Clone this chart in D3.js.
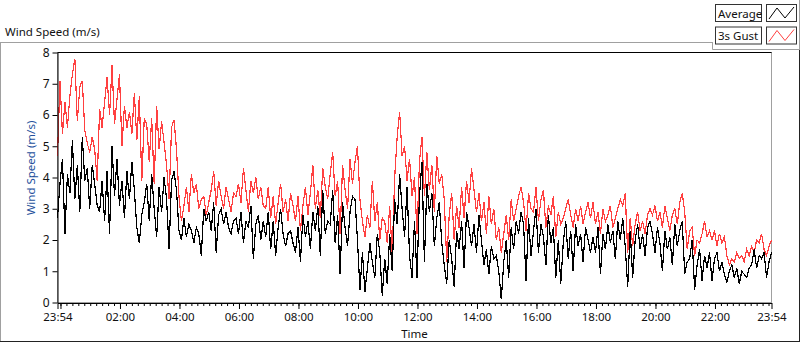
<!DOCTYPE html>
<html>
<head>
<meta charset="utf-8">
<script src="https://cdn.jsdelivr.net/npm/d3@7"></script>
<style>
  html, body { margin: 0; padding: 0; background: #fff; }
  #chart { width: 800px; height: 342px; }
  text { font-family: "Noto Sans", "Open Sans", sans-serif; fill: #111; }
  .axis .domain { stroke: #000; }
  .axis line { stroke: #000; }
</style>
</head>
<body>
<div id="chart"></div>
<script>
// one sample every 5 minutes, 23:54 -> 23:54 next day
const startTime = new Date(2000, 0, 1, 23, 54);
const stepMinutes = 5;

const averageSpeed = [
  2.7, 3.8, 4.6, 2.2, 4.1, 3.5, 5.2, 3.3, 4.4, 2.9, 5.3, 3.9,
  4.3, 3.0, 4.4, 3.8, 3.1, 2.9, 3.9, 2.6, 4.2, 2.2, 5.0, 3.4,
  4.6, 3.1, 3.9, 2.7, 4.2, 3.3, 4.5, 3.6, 2.4, 1.9, 2.8, 3.2,
  3.8, 2.6, 4.1, 3.0, 2.1, 3.7, 2.9, 4.0, 3.3, 1.7, 3.9, 4.2,
  3.6, 2.3, 2.0, 2.7, 2.1, 2.5, 2.3, 1.9, 2.4, 2.2, 1.5, 3.0,
  2.6, 2.9, 2.3, 3.2, 1.6, 2.8, 3.0, 2.5, 2.9, 2.4, 2.2, 2.6,
  2.7, 2.2, 2.9, 1.9, 2.6, 2.4, 3.1, 1.4, 2.5, 2.8, 2.0, 2.6,
  2.1, 2.9, 1.7, 2.6, 1.5, 2.4, 3.0, 2.2, 1.8, 2.2, 2.3, 1.9,
  1.6, 2.4, 1.3, 2.8, 2.1, 2.6, 1.7, 2.9, 2.3, 3.1, 1.5, 3.6,
  2.2, 2.6, 2.5, 3.6, 1.9, 2.8, 0.9, 3.2, 2.4, 1.8, 2.9, 3.4,
  3.3, 2.0, 0.4, 1.6, 0.35, 1.1, 1.9, 1.3, 0.8, 2.2, 1.6, 0.2,
  1.4, 0.6, 2.2, 1.0, 3.3, 2.5, 4.1, 3.0, 2.1, 3.7, 1.5, 0.8,
  2.6, 0.8, 3.4, 4.5, 1.3, 3.8, 2.9, 3.5, 1.8, 2.7, 3.2, 1.9,
  1.2, 0.6, 2.0, 1.4, 0.5, 2.3, 1.7, 2.6, 1.1, 2.9, 2.4, 1.8,
  2.5, 1.6, 2.8, 2.0, 1.2, 1.7, 0.9, 1.8, 1.4, 1.5, 1.0, 0.1,
  1.3, 2.0, 0.8, 2.4, 1.7, 2.6, 2.2, 2.9, 2.5, 0.7, 2.7, 1.5,
  2.3, 3.0, 1.6, 2.5, 2.1, 1.2, 2.8, 1.9, 2.4, 0.8, 2.0, 0.6,
  1.9, 2.6, 1.4, 2.3, 1.0, 2.5, 1.8, 2.2, 1.3, 2.4, 2.0, 1.6,
  2.1, 1.6, 2.4, 0.9, 2.2, 1.7, 2.5, 1.9, 2.3, 1.4, 2.6, 2.0,
  2.7, 1.8, 0.5, 2.3, 0.8, 2.0, 2.5, 1.7, 2.2, 1.5, 2.4, 2.6,
  2.2, 1.6, 2.4, 1.9, 1.0, 2.3, 1.7, 2.1, 1.2, 2.5, 1.8, 2.3,
  2.6, 0.9, 1.3, 1.4, 2.0, 0.4, 1.2, 1.7, 0.7, 1.5, 1.1, 1.6,
  0.7, 1.4, 1.6, 1.0, 1.3, 0.9, 0.65, 1.0, 1.2, 0.8, 1.1, 0.6,
  1.0, 0.9, 0.8, 1.1, 1.2, 1.7, 1.1, 1.5, 1.4, 1.6, 0.8, 1.3,
  1.6
];

const gustSpeed = [
  4.7, 7.1, 5.4, 6.4, 5.6, 6.6, 7.3, 7.8, 5.8, 6.9, 7.1, 5.5,
  5.1, 4.8, 5.3, 4.9, 3.9, 6.2, 5.6, 6.4, 7.2, 6.0, 7.6, 5.7,
  6.5, 7.3, 5.0, 6.3, 5.6, 6.1, 5.4, 6.7, 5.2, 6.6, 3.9, 5.9,
  5.7, 4.5, 5.9, 3.8, 6.3, 4.9, 5.8, 5.1, 4.4, 3.3, 5.6, 5.85,
  4.9, 3.4, 2.6, 3.1, 3.7, 2.9, 4.1, 3.5, 3.8, 3.0, 3.3, 3.4,
  2.8, 3.2, 3.6, 4.2, 3.1, 3.9, 3.4, 3.0, 3.7, 3.3, 2.9, 3.5,
  3.4, 3.8, 3.2, 4.3, 3.6, 2.9, 3.9, 3.5, 4.0, 3.3, 3.7, 3.1,
  3.0, 3.7, 2.7, 3.4, 2.5, 3.2, 3.8, 2.9, 3.3, 2.6, 3.5, 3.1,
  2.6, 3.4, 2.3, 3.1, 3.7, 2.8, 3.5, 4.4, 3.0, 3.6, 2.7, 4.3,
  3.7, 3.3, 4.1, 4.8, 3.4, 3.9, 2.2, 4.4, 3.6, 3.0, 4.6, 3.8,
  4.5, 5.0, 3.3, 2.6, 2.1, 2.8, 2.4, 3.9, 2.6, 3.2, 2.0, 2.7,
  2.6, 1.9, 3.1, 1.5, 4.0, 5.3, 6.1, 4.7, 5.0, 3.9, 4.6, 3.4,
  4.0, 2.2, 4.5, 5.3, 3.4, 4.8, 3.6, 4.4, 2.9, 4.7, 3.8, 4.1,
  3.3, 1.3, 2.8, 3.5, 2.0, 3.1, 2.4, 3.7, 2.7, 3.9, 3.2, 4.3,
  3.6, 2.9, 3.5, 2.6, 3.2, 2.2, 3.4, 2.5, 3.0, 2.0, 2.4, 1.6,
  2.2, 2.8, 2.0, 3.3, 2.6, 3.0, 3.4, 3.7, 3.2, 2.3, 3.5, 3.0,
  2.9, 3.7, 2.6, 3.3, 3.6, 2.4, 3.1, 2.8, 3.4, 2.1, 2.9, 2.5,
  2.7, 3.0, 3.3, 2.8, 2.4, 3.0, 2.6, 3.1, 2.5, 2.9, 3.2, 2.7,
  3.2, 2.5, 2.9, 2.2, 3.0, 2.6, 2.8, 3.1, 2.4, 2.7, 3.0, 3.3,
  3.1, 3.5, 1.6, 2.7, 1.8, 2.5, 2.9, 2.3, 2.6, 2.2, 2.8, 3.0,
  2.8, 3.1, 2.6, 2.9, 2.4, 3.1, 2.7, 2.3, 2.8, 3.0, 2.5, 3.2,
  3.5, 2.9, 1.7, 2.3, 2.4, 1.5, 2.0, 1.9, 2.2, 2.6, 2.1, 2.3,
  2.0, 2.3, 1.8, 2.2, 1.9, 2.1, 1.5, 1.2, 1.4, 1.3, 1.6, 1.4,
  1.5, 1.3, 1.7, 1.5, 1.8, 1.6, 2.0, 1.9, 2.2, 1.7, 1.5, 1.8,
  2.0
];

const yTicks = [0, 1, 2, 3, 4, 5, 6, 7, 8];
const xTickLabels = ["23:54", "02:00", "04:00", "06:00", "08:00", "10:00",
  "12:00", "14:00", "16:00", "18:00", "20:00", "22:00", "23:54"];
const seriesNames = ["Average", "3s Gust"];
const seriesColors = ["#000000", "#ff4040"];

const svg = d3.select("#chart").append("svg")
  .attr("width", 800)
  .attr("height", 342);

const plot = { left: 57.5, right: 771.5, top: 52.5, bottom: 302.5 };
const fontSize = "11.5px";

const endTime = d3.timeMinute.offset(startTime, stepMinutes * (averageSpeed.length - 1));

const x = d3.scaleTime()
  .domain([startTime, endTime])
  .range([plot.left, plot.right]);

const y = d3.scaleLinear()
  .domain([0, 8])
  .range([plot.bottom, plot.top]);

// outer panel frame
svg.append("line").attr("x1", 0).attr("x2", 712).attr("y1", 42.5).attr("y2", 42.5).attr("stroke", "#a0a0a0");
svg.append("line").attr("x1", 0.5).attr("x2", 0.5).attr("y1", 42).attr("y2", 342).attr("stroke", "#a0a0a0");
svg.append("line").attr("x1", 0).attr("x2", 800).attr("y1", 341.5).attr("y2", 341.5).attr("stroke", "#222");
svg.append("line").attr("x1", 799.5).attr("x2", 799.5).attr("y1", 49).attr("y2", 342).attr("stroke", "#222");

svg.append("text")
  .attr("x", 5)
  .attr("y", 36)
  .style("font-size", fontSize)
  .text("Wind Speed (m/s)");

// plot area
svg.append("rect")
  .attr("x", plot.left)
  .attr("y", plot.top)
  .attr("width", plot.right - plot.left)
  .attr("height", plot.bottom - plot.top)
  .attr("fill", "#fff")
  .attr("stroke", "#a0a0a0");

svg.append("line")
  .attr("x1", plot.left).attr("x2", plot.right)
  .attr("y1", plot.top).attr("y2", plot.top)
  .attr("stroke", "#000");

// data lines (gust first, average drawn on top)
const line = d3.line()
  .x(function (d, i) { return x(d3.timeMinute.offset(startTime, i * stepMinutes)); })
  .y(function (d) { return y(d); });

svg.append("path")
  .datum(gustSpeed)
  .attr("fill", "none")
  .attr("stroke", seriesColors[1])
  .attr("stroke-width", 1.2)
  .attr("shape-rendering", "crispEdges")
  .attr("d", line);

svg.append("path")
  .datum(averageSpeed)
  .attr("fill", "none")
  .attr("stroke", seriesColors[0])
  .attr("stroke-width", 1.2)
  .attr("shape-rendering", "crispEdges")
  .attr("d", line);

// y axis
const yAxis = d3.axisLeft(y)
  .tickValues(yTicks)
  .tickSize(5)
  .tickSizeOuter(0)
  .tickPadding(3);

svg.append("g")
  .attr("class", "axis y")
  .attr("transform", `translate(${plot.left},0)`)
  .call(yAxis)
  .call(function (g) { g.selectAll("text").style("font-size", "12px").attr("fill", "#111"); })
  .call(function (g) { g.select(".domain").attr("stroke", "#000"); });

svg.append("text")
  .attr("transform", "translate(35,168) rotate(-90)")
  .attr("text-anchor", "middle")
  .style("font-size", fontSize)
  .style("fill", "#24509c")
  .text("Wind Speed (m/s)");

// x axis: minor ticks every 12 minutes, labelled majors every 2 hours
const tickDates = xTickLabels.map(function (s, i) {
  if (i === 0) return startTime;
  if (i === xTickLabels.length - 1) return endTime;
  const p = s.split(":");
  return new Date(2000, 0, 2, +p[0], +p[1]);
});
const majorDates = tickDates.concat([new Date(2000, 0, 2, 0, 0)]);

const minorAxis = d3.axisBottom(x)
  .tickValues(d3.timeMinute.every(12).range(startTime, endTime))
  .tickSize(3)
  .tickSizeOuter(0)
  .tickFormat("");

svg.append("g")
  .attr("class", "axis x minor")
  .attr("transform", `translate(0,${plot.bottom + 0.5})`)
  .call(minorAxis)
  .call(function (g) { g.select(".domain").attr("stroke", "#a0a0a0"); });

const majorAxis = d3.axisBottom(x)
  .tickValues(majorDates)
  .tickSize(6)
  .tickSizeOuter(0)
  .tickPadding(4)
  .tickFormat(function (d) {
    const i = tickDates.indexOf(d);
    return i >= 0 ? xTickLabels[i] : "";
  });

svg.append("g")
  .attr("class", "axis x major")
  .attr("transform", `translate(0,${plot.bottom + 0.5})`)
  .call(majorAxis)
  .call(function (g) { g.select(".domain").remove(); })
  .call(function (g) {
    g.selectAll("text").style("font-size", fontSize).attr("fill", "#111");
    g.selectAll(".tick").filter(function (d) { return tickDates.indexOf(d) < 0; }).select("text").remove();
  });

svg.append("text")
  .attr("x", (plot.left + plot.right) / 2)
  .attr("y", 338)
  .attr("text-anchor", "middle")
  .style("font-size", fontSize)
  .text("Time");

// legend
const legend = svg.append("g").attr("class", "legend");
legend.append("path")
  .attr("d", "M712.5,42 V49.5 H800")
  .attr("fill", "none")
  .attr("stroke", "#a0a0a0");
legend.append("line")
  .attr("x1", 799.5).attr("x2", 799.5).attr("y1", 0).attr("y2", 49)
  .attr("stroke", "#a0a0a0");

const item = legend.selectAll(".item")
  .data(seriesNames)
  .enter().append("g")
  .attr("class", "item")
  .attr("transform", function (d, i) { return `translate(0,${i * 22.5})`; });

item.append("rect")
  .attr("x", 715.5).attr("y", 4.5)
  .attr("width", 46).attr("height", 17)
  .attr("fill", "#fff")
  .attr("stroke", "#333");

item.append("text")
  .attr("x", 718)
  .attr("y", 17.5)
  .style("font-size", fontSize)
  .text(function (d) { return d; });

item.append("rect")
  .attr("x", 766.5).attr("y", 4.5)
  .attr("width", 30).attr("height", 17)
  .attr("fill", "#fff")
  .attr("stroke", "#333");

item.append("path")
  .attr("d", "M769,19 L777,8 L785,18 L794,7")
  .attr("fill", "none")
  .attr("stroke", function (d, i) { return seriesColors[i]; });
</script>
</body>
</html>
